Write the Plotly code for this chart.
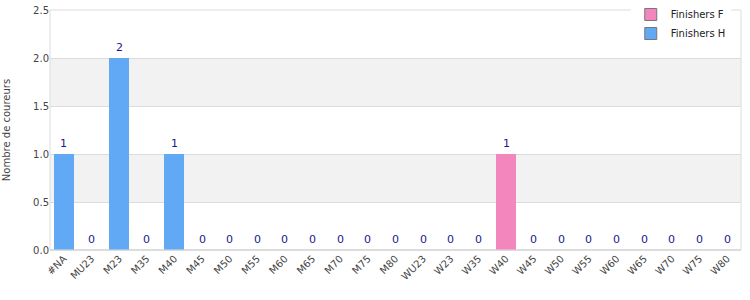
import plotly.graph_objects as go

categories = ["#NA", "MU23", "M23", "M35", "M40", "M45", "M50", "M55", "M60", "M65", "M70", "M75", "M80",
              "WU23", "W23", "W35", "W40", "W45", "W50", "W55", "W60", "W65", "W70", "W75", "W80"]
finishers_f = [0, 0, 0, 0, 0, 0, 0, 0, 0, 0, 0, 0, 0, 0, 0, 0, 1, 0, 0, 0, 0, 0, 0, 0, 0]
finishers_h = [1, 0, 2, 0, 1, 0, 0, 0, 0, 0, 0, 0, 0, 0, 0, 0, 0, 0, 0, 0, 0, 0, 0, 0, 0]
totals = [f + h for f, h in zip(finishers_f, finishers_h)]

pink = "#f386bd"
blue = "#61a9f4"
font = "DejaVu Sans"

fig = go.Figure()
fig.add_trace(go.Bar(x=categories, y=finishers_f, name="Finishers F", marker=dict(color=pink, line=dict(width=0)),
                     showlegend=False))
fig.add_trace(go.Bar(x=categories, y=finishers_h, name="Finishers H", marker=dict(color=blue, line=dict(width=0)),
                     showlegend=False))
# legend entries on a hidden overlay axis (no visible mark)
fig.add_trace(go.Bar(x=[None], y=[None], name="Finishers F", hoverinfo="skip", xaxis="x2", yaxis="y2",
                     marker=dict(color=pink, line=dict(color="#777", width=1))))
fig.add_trace(go.Bar(x=[None], y=[None], name="Finishers H", hoverinfo="skip", xaxis="x2", yaxis="y2",
                     marker=dict(color=blue, line=dict(color="#777", width=1))))

annotations = [dict(x=c, y=t, xref="x", yref="y", text=str(t), showarrow=False, yanchor="bottom",
                    yshift=2, font=dict(color="#1a1a8c", size=11, family=font))
               for c, t in zip(categories, totals)]

shapes = []
for y0 in [0.5, 1.5]:
    shapes.append(dict(type="rect", xref="paper", yref="y", x0=0, x1=1, y0=y0, y1=y0 + 0.5,
                       fillcolor="#f2f2f2", line=dict(width=0), layer="below"))
shapes.append(dict(type="rect", xref="paper", yref="paper", x0=0, x1=1, y0=0, y1=1,
                   fillcolor="rgba(0,0,0,0)", line=dict(color="#dcdcdc", width=1)))

fig.update_layout(
    width=750, height=300,
    margin=dict(l=50, r=9, t=10, b=50, autoexpand=False),
    barmode="stack", bargap=0.28,
    plot_bgcolor="white", paper_bgcolor="white",
    font=dict(family=font, size=10, color="#444"),
    shapes=shapes,
    annotations=annotations,
    showlegend=True,
    legend=dict(xref="container", yref="container", x=0.841, y=1.0, xanchor="left", yanchor="top",
                bgcolor="white", traceorder="normal", font=dict(size=10, color="#222"),
                tracegroupgap=0, itemwidth=30),
    xaxis=dict(tickangle=-45, showgrid=False, showline=False, ticks="", tickfont=dict(size=10),
               range=[-0.5, len(categories) - 0.5]),
    yaxis=dict(range=[0, 2.5], dtick=0.5, tickformat=".1f", showgrid=True, gridcolor="#dcdcdc",
               zeroline=True, zerolinecolor="#dcdcdc", showline=False, ticks="",
               title=dict(text="Nombre de coureurs", font=dict(size=10, color="#444"), standoff=20),
               tickfont=dict(size=10)),
    xaxis2=dict(overlaying="x", visible=False),
    yaxis2=dict(overlaying="y", visible=False),
)

fig.write_html("out.html")
